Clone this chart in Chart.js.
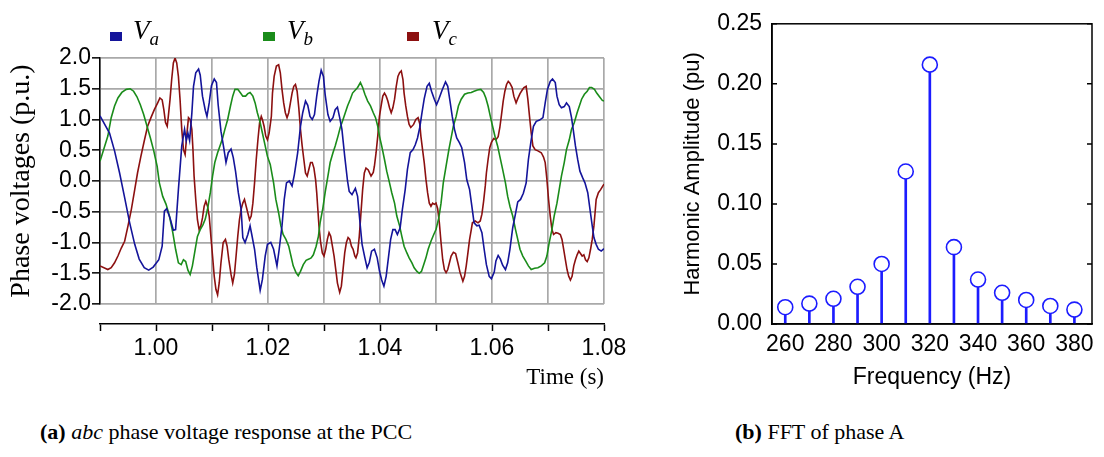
<!DOCTYPE html>
<html>
<head>
<meta charset="utf-8">
<script src="https://cdn.jsdelivr.net/npm/chart.js@4.4.0/dist/chart.umd.min.js"></script>
<style>
  html, body { margin: 0; padding: 0; background: #fff; }
  body { width: 1104px; height: 457px; position: relative; overflow: hidden; }
  canvas { position: absolute; }
  #waveChart { left: 0; top: 0; }
  #timeAxis { left: 80px; top: 320px; }
  #fftChart { left: 650px; top: 0; }
  .swatch { position: absolute; top: 32px; width: 12px; height: 9px; }
  .sym { position: absolute; top: 15px; font-family: "Liberation Serif", serif; font-style: italic; font-size: 27px; line-height: 30px; color: #000; }
  .sym sub { font-size: 19px; line-height: 0; vertical-align: -6px; }
  .caption { position: absolute; top: 419px; font-family: "Liberation Serif", serif; font-size: 22px; color: #000; white-space: nowrap; }
</style>
</head>
<body>

<canvas id="waveChart" width="620" height="320"></canvas>
<canvas id="timeAxis" width="560" height="80"></canvas>
<canvas id="fftChart" width="454" height="400"></canvas>

<div class="swatch" style="left:110px; background:#14149a;"></div>
<div class="sym" style="left:133px;">V<sub>a</sub></div>
<div class="swatch" style="left:263px; background:#1a8c1a;"></div>
<div class="sym" style="left:287px;">V<sub>b</sub></div>
<div class="swatch" style="left:407px; background:#8c1010;"></div>
<div class="sym" style="left:432px;">V<sub>c</sub></div>

<div class="caption" style="left:40px;"><b>(a)</b> <i>abc</i> phase voltage response at the PCC</div>
<div class="caption" style="left:735px;"><b>(b)</b> FFT of phase A</div>

<script>
// DATA

const timeTicks = [0.99, 1.00, 1.01, 1.02, 1.03, 1.04, 1.05, 1.06, 1.07, 1.08];
const voltTicks = [-2.0, -1.5, -1.0, -0.5, 0.0, 0.5, 1.0, 1.5, 2.0];

// phase a (blue)
const vaTime = [
  0.9900, 0.9917, 0.9926, 0.9935, 0.9944, 0.9953, 0.9962, 0.9970, 0.9979, 0.9987, 0.9995, 1.0005,
  1.0011, 1.0015, 1.0019, 1.0025, 1.0031, 1.0035, 1.0040, 1.0046,
  1.0051, 1.0054, 1.0057, 1.0060, 1.0064, 1.0067, 1.0071, 1.0076, 1.0079, 1.0083,
  1.0088, 1.0091, 1.0095, 1.0099, 1.0104, 1.0108, 1.0111, 1.0116, 1.0121, 1.0125,
  1.0129, 1.0134, 1.0138, 1.0142, 1.0147, 1.0152, 1.0155, 1.0159, 1.0164, 1.0168,
  1.0171, 1.0176, 1.0180, 1.0186, 1.0190, 1.0195, 1.0199, 1.0205, 1.0210, 1.0216,
  1.0220, 1.0225, 1.0229, 1.0233, 1.0238, 1.0243, 1.0247, 1.0253, 1.0258, 1.0262,
  1.0267, 1.0271, 1.0275, 1.0279, 1.0283, 1.0287, 1.0291, 1.0295, 1.0299, 1.0302,
  1.0307, 1.0311, 1.0316, 1.0320, 1.0324, 1.0328, 1.0332, 1.0337, 1.0342, 1.0345,
  1.0350, 1.0356, 1.0360, 1.0364, 1.0368, 1.0373, 1.0377, 1.0381, 1.0385, 1.0390,
  1.0395, 1.0399, 1.0403, 1.0407, 1.0411, 1.0415, 1.0419, 1.0423, 1.0427, 1.0431,
  1.0436, 1.0440, 1.0445, 1.0449, 1.0454, 1.0459, 1.0463, 1.0467, 1.0471, 1.0475,
  1.0479, 1.0484, 1.0488, 1.0492, 1.0497, 1.0501, 1.0505, 1.0511, 1.0517, 1.0521,
  1.0525, 1.0529, 1.0533, 1.0537, 1.0542, 1.0546, 1.0551, 1.0555, 1.0560, 1.0564,
  1.0568, 1.0573, 1.0577, 1.0582, 1.0586, 1.0590, 1.0595, 1.0599, 1.0604, 1.0607,
  1.0611, 1.0615, 1.0619, 1.0624, 1.0628, 1.0632, 1.0637, 1.0642, 1.0646, 1.0651,
  1.0656, 1.0661, 1.0665, 1.0670, 1.0674, 1.0679, 1.0685, 1.0691, 1.0695, 1.0699,
  1.0704, 1.0708, 1.0713, 1.0716, 1.0720, 1.0724, 1.0729, 1.0733, 1.0738, 1.0742,
  1.0745, 1.0749, 1.0753, 1.0757, 1.0762, 1.0766, 1.0771, 1.0775, 1.0779, 1.0782,
  1.0786, 1.0790, 1.0795, 1.0800
];
const vaVolt = [
  1.06, 0.78, 0.49, 0.13, -0.27, -0.68, -1.03, -1.27, -1.41, -1.45, -1.40, -1.28,
  -1.06, -0.49, -0.45, -0.60, -0.80, -0.79, -0.14, 0.57,
  0.84, 0.66, 0.78, 0.66, 1.10, 1.54, 1.76, 1.82, 1.72, 1.38,
  1.15, 1.05, 1.27, 1.55, 1.66, 1.60, 1.24, 0.81, 0.54, 0.30,
  0.46, 0.52, 0.38, 0.16, -0.19, -0.46, -0.92, -1.00, -0.87, -0.73,
  -0.87, -1.11, -1.41, -1.78, -1.60, -1.22, -1.03, -1.00, -1.11, -1.38,
  -1.11, -0.73, -0.30, -0.03, 0.00, -0.08, 0.10, 0.46, 0.89, 1.11,
  1.30, 1.23, 1.05, 1.00, 1.08, 1.38, 1.62, 1.80, 1.70, 1.41,
  1.08, 0.97, 1.03, 1.16, 1.20, 1.03, 0.84, 0.40, 0.00, -0.17,
  -0.22, -0.12, -0.25, -0.65, -1.03, -1.25, -1.41, -1.32, -1.14, -1.11,
  -1.25, -1.46, -1.61, -1.71, -1.55, -1.25, -0.95, -0.79, -0.79, -0.87,
  -0.76, -0.46, -0.14, 0.19, 0.46, 0.51, 0.59, 0.70, 0.87, 1.11,
  1.34, 1.54, 1.59, 1.46, 1.33, 1.24, 1.33, 1.48, 1.61, 1.54,
  1.30, 1.05, 0.84, 0.70, 0.62, 0.54, 0.30, 0.02, -0.14, -0.41,
  -0.68, -0.73, -0.72, -0.84, -1.11, -1.36, -1.55, -1.59, -1.48, -1.30,
  -1.21, -1.27, -1.37, -1.44, -1.33, -1.11, -0.76, -0.53, -0.34, -0.30,
  -0.20, -0.03, 0.35, 0.67, 0.89, 0.97, 0.99, 1.03, 1.27, 1.49,
  1.62, 1.66, 1.60, 1.38, 1.24, 1.19, 1.21, 1.27, 1.21, 1.03,
  0.84, 0.57, 0.35, 0.16, 0.05, -0.03, -0.19, -0.46, -0.73, -0.92,
  -1.03, -1.11, -1.14, -1.10
];

// phase b (green)
const vbTime = [
  0.9900, 0.9914, 0.9920, 0.9926, 0.9932, 0.9939, 0.9947, 0.9954, 0.9960, 0.9966,
  0.9972, 0.9978, 0.9984, 0.9990, 0.9996, 1.0002, 1.0006, 1.0012, 1.0018, 1.0024,
  1.0030, 1.0035, 1.0040, 1.0045, 1.0049, 1.0053, 1.0057, 1.0061, 1.0065, 1.0070,
  1.0074, 1.0079, 1.0084, 1.0088, 1.0092, 1.0097, 1.0101, 1.0105, 1.0110, 1.0115,
  1.0119, 1.0123, 1.0128, 1.0133, 1.0137, 1.0141, 1.0146, 1.0151, 1.0155, 1.0160,
  1.0164, 1.0168, 1.0173, 1.0177, 1.0181, 1.0186, 1.0190, 1.0195, 1.0199, 1.0204,
  1.0210, 1.0214, 1.0219, 1.0223, 1.0227, 1.0232, 1.0237, 1.0241, 1.0245, 1.0250,
  1.0254, 1.0258, 1.0263, 1.0268, 1.0273, 1.0277, 1.0281, 1.0286, 1.0290, 1.0293,
  1.0298, 1.0302, 1.0307, 1.0311, 1.0316, 1.0320, 1.0325, 1.0329, 1.0334, 1.0338,
  1.0342, 1.0347, 1.0351, 1.0356, 1.0360, 1.0365, 1.0369, 1.0373, 1.0378, 1.0383,
  1.0388, 1.0392, 1.0396, 1.0399, 1.0403, 1.0408, 1.0412, 1.0417, 1.0421, 1.0426,
  1.0430, 1.0435, 1.0439, 1.0443, 1.0448, 1.0452, 1.0457, 1.0461, 1.0466, 1.0470,
  1.0474, 1.0478, 1.0482, 1.0486, 1.0491, 1.0496, 1.0500, 1.0505, 1.0509, 1.0513,
  1.0518, 1.0523, 1.0527, 1.0531, 1.0536, 1.0540, 1.0545, 1.0551, 1.0557, 1.0563,
  1.0568, 1.0574, 1.0580, 1.0585, 1.0589, 1.0593, 1.0597, 1.0601, 1.0606, 1.0610,
  1.0614, 1.0619, 1.0624, 1.0628, 1.0632, 1.0637, 1.0642, 1.0646, 1.0650, 1.0655,
  1.0660, 1.0665, 1.0670, 1.0676, 1.0682, 1.0688, 1.0694, 1.0698, 1.0702, 1.0707,
  1.0711, 1.0716, 1.0720, 1.0724, 1.0729, 1.0733, 1.0738, 1.0742, 1.0747, 1.0752,
  1.0756, 1.0760, 1.0765, 1.0770, 1.0774, 1.0778, 1.0783, 1.0787, 1.0792, 1.0797,
  1.0800
];
const vbVolt = [
  0.32, 0.73, 1.03, 1.22, 1.35, 1.44, 1.49, 1.50, 1.46, 1.37,
  1.24, 1.08, 0.89, 0.70, 0.49, 0.24, -0.03, -0.25, -0.38, -0.57,
  -0.84, -1.11, -1.33, -1.36, -1.28, -1.31, -1.45, -1.52, -1.38, -1.11,
  -0.90, -0.79, -0.71, -0.62, -0.46, -0.19, 0.08, 0.30, 0.46, 0.59,
  0.70, 0.84, 1.00, 1.22, 1.38, 1.49, 1.49, 1.43, 1.38, 1.38,
  1.42, 1.44, 1.38, 1.27, 1.11, 0.95, 0.78, 0.57, 0.40, 0.27,
  -0.03, -0.30, -0.52, -0.73, -0.87, -0.95, -1.06, -1.22, -1.38, -1.49,
  -1.54, -1.47, -1.36, -1.29, -1.27, -1.25, -1.20, -1.06, -0.90, -0.68,
  -0.44, -0.19, 0.08, 0.30, 0.46, 0.57, 0.73, 0.87, 1.00, 1.11,
  1.22, 1.33, 1.43, 1.48, 1.52, 1.60, 1.52, 1.41, 1.30, 1.22,
  1.11, 1.03, 0.89, 0.73, 0.57, 0.35, 0.16, -0.03, -0.19, -0.36,
  -0.57, -0.73, -0.90, -1.06, -1.17, -1.25, -1.33, -1.41, -1.47, -1.50,
  -1.47, -1.36, -1.25, -1.11, -0.98, -0.87, -0.79, -0.60, -0.36, -0.03,
  0.24, 0.51, 0.70, 0.89, 1.05, 1.22, 1.33, 1.41, 1.43, 1.44,
  1.46, 1.48, 1.49, 1.44, 1.35, 1.22, 1.05, 0.89, 0.70, 0.57,
  0.40, 0.19, -0.03, -0.25, -0.41, -0.57, -0.79, -0.95, -1.11, -1.22,
  -1.30, -1.38, -1.44, -1.42, -1.41, -1.38, -1.33, -1.22, -1.01, -0.79,
  -0.57, -0.36, -0.14, 0.08, 0.30, 0.51, 0.67, 0.84, 0.95, 1.11,
  1.22, 1.33, 1.41, 1.46, 1.52, 1.52, 1.49, 1.43, 1.37, 1.31,
  1.30
];

// phase c (red)
const vcTime = [
  0.9900, 0.9914, 0.9920, 0.9926, 0.9932, 0.9938, 0.9944, 0.9950, 0.9956, 0.9962,
  0.9967, 0.9973, 0.9979, 0.9985, 0.9991, 0.9997, 1.0003, 1.0007, 1.0011, 1.0014,
  1.0017, 1.0020, 1.0022, 1.0025, 1.0028, 1.0031, 1.0034, 1.0037, 1.0040, 1.0043,
  1.0046, 1.0049, 1.0052, 1.0055, 1.0058, 1.0061, 1.0064, 1.0066, 1.0068, 1.0071,
  1.0074, 1.0077, 1.0080, 1.0083, 1.0086, 1.0089, 1.0092, 1.0095, 1.0098, 1.0101,
  1.0104, 1.0107, 1.0110, 1.0113, 1.0116, 1.0120, 1.0124, 1.0127, 1.0130, 1.0134,
  1.0137, 1.0140, 1.0143, 1.0146, 1.0149, 1.0152, 1.0155, 1.0158, 1.0161, 1.0164,
  1.0167, 1.0170, 1.0173, 1.0176, 1.0179, 1.0182, 1.0185, 1.0188, 1.0190, 1.0193,
  1.0196, 1.0199, 1.0202, 1.0206, 1.0208, 1.0211, 1.0215, 1.0219, 1.0222, 1.0225,
  1.0228, 1.0231, 1.0234, 1.0237, 1.0240, 1.0243, 1.0246, 1.0249, 1.0252, 1.0255,
  1.0258, 1.0261, 1.0264, 1.0267, 1.0270, 1.0273, 1.0276, 1.0279, 1.0282, 1.0285,
  1.0287, 1.0289, 1.0291, 1.0294, 1.0297, 1.0300, 1.0303, 1.0306, 1.0309, 1.0312,
  1.0315, 1.0318, 1.0321, 1.0324, 1.0328, 1.0331, 1.0334, 1.0337, 1.0340, 1.0343,
  1.0346, 1.0349, 1.0352, 1.0355, 1.0357, 1.0360, 1.0363, 1.0366, 1.0369, 1.0372,
  1.0375, 1.0379, 1.0384, 1.0388, 1.0390, 1.0393, 1.0396, 1.0399, 1.0402, 1.0405,
  1.0408, 1.0411, 1.0414, 1.0417, 1.0420, 1.0423, 1.0426, 1.0429, 1.0432, 1.0435,
  1.0438, 1.0441, 1.0443, 1.0446, 1.0449, 1.0452, 1.0455, 1.0460, 1.0464, 1.0468,
  1.0471, 1.0473, 1.0476, 1.0479, 1.0482, 1.0485, 1.0488, 1.0491, 1.0494, 1.0497,
  1.0500, 1.0503, 1.0506, 1.0509, 1.0512, 1.0515, 1.0518, 1.0521, 1.0524, 1.0527,
  1.0531, 1.0535, 1.0539, 1.0543, 1.0548, 1.0551, 1.0554, 1.0557, 1.0560, 1.0563,
  1.0565, 1.0570, 1.0575, 1.0579, 1.0582, 1.0585, 1.0588, 1.0590, 1.0593, 1.0596,
  1.0599, 1.0603, 1.0607, 1.0611, 1.0614, 1.0617, 1.0620, 1.0623, 1.0626, 1.0629,
  1.0632, 1.0636, 1.0639, 1.0643, 1.0646, 1.0650, 1.0654, 1.0657, 1.0661, 1.0664,
  1.0667, 1.0670, 1.0673, 1.0677, 1.0682, 1.0688, 1.0692, 1.0695, 1.0698, 1.0701,
  1.0704, 1.0707, 1.0710, 1.0714, 1.0718, 1.0722, 1.0725, 1.0728, 1.0731, 1.0734,
  1.0737, 1.0740, 1.0743, 1.0746, 1.0749, 1.0752, 1.0755, 1.0758, 1.0761, 1.0764,
  1.0767, 1.0770, 1.0773, 1.0776, 1.0779, 1.0782, 1.0784, 1.0786, 1.0790, 1.0794,
  1.0798, 1.0800
];
const vcVolt = [
  -1.38, -1.44, -1.41, -1.33, -1.22, -1.09, -0.98, -0.73, -0.46, -0.14,
  0.13, 0.40, 0.65, 0.89, 1.03, 1.16, 1.27, 1.35, 1.32, 1.16,
  0.95, 0.89, 1.05, 1.32, 1.65, 1.92, 2.00, 1.92, 1.70, 1.32,
  0.84, 0.51, 0.43, 0.75, 1.03, 1.00, 0.84, 0.51, 0.08, -0.30,
  -0.63, -0.79, -0.73, -0.60, -0.41, -0.33, -0.41, -0.57, -0.90, -1.22,
  -1.55, -1.76, -1.85, -1.65, -1.33, -1.00, -0.95, -1.06, -1.28, -1.52,
  -1.66, -1.52, -1.22, -0.90, -0.63, -0.46, -0.36, -0.30, -0.41, -0.52,
  -0.63, -0.57, -0.36, -0.03, 0.35, 0.67, 0.95, 1.05, 1.00, 0.89,
  0.73, 0.67, 0.78, 1.05, 1.43, 1.70, 1.87, 1.89, 1.76, 1.49,
  1.27, 1.11, 1.03, 1.11, 1.27, 1.43, 1.54, 1.57, 1.46, 1.19,
  0.84, 0.57, 0.35, 0.13, 0.08, 0.19, 0.30, 0.30, 0.21, 0.02,
  -0.19, -0.46, -0.73, -1.00, -1.17, -1.22, -1.11, -0.95, -0.84, -0.90,
  -1.06, -1.22, -1.44, -1.66, -1.81, -1.71, -1.44, -1.17, -1.00, -0.92,
  -0.95, -1.06, -1.11, -1.22, -1.25, -1.17, -0.90, -0.52, -0.14, 0.13,
  0.21, 0.18, 0.08, 0.14, 0.24, 0.46, 0.73, 1.05, 1.22, 1.38,
  1.43, 1.38, 1.30, 1.19, 1.11, 1.19, 1.33, 1.54, 1.70, 1.76,
  1.79, 1.65, 1.43, 1.22, 1.05, 0.92, 0.87, 0.92, 1.00, 1.03,
  0.93, 0.73, 0.51, 0.30, 0.03, -0.19, -0.36, -0.41, -0.36, -0.38,
  -0.36, -0.45, -0.68, -1.00, -1.28, -1.44, -1.49, -1.44, -1.33, -1.22,
  -1.16, -1.18, -1.33, -1.49, -1.63, -1.55, -1.38, -1.17, -0.95, -0.79,
  -0.68, -0.65, -0.68, -0.65, -0.54, -0.33, -0.08, 0.13, 0.35, 0.54,
  0.63, 0.69, 0.67, 0.72, 0.87, 1.08, 1.30, 1.46, 1.57, 1.62,
  1.59, 1.52, 1.38, 1.27, 1.34, 1.42, 1.48, 1.52, 1.54, 1.33,
  1.05, 0.78, 0.57, 0.51, 0.49, 0.46, 0.39, 0.30, 0.03, -0.30,
  -0.57, -0.79, -0.87, -0.84, -0.85, -0.87, -0.95, -1.11, -1.28, -1.44,
  -1.55, -1.61, -1.55, -1.38, -1.28, -1.20, -1.14, -1.18, -1.22, -1.20,
  -1.28, -1.31, -1.25, -1.11, -0.95, -0.73, -0.52, -0.30, -0.19, -0.14,
  -0.08, -0.05
];

// FFT of phase A
const freqHz = [260, 270, 280, 290, 300, 310, 320, 330, 340, 350, 360, 370, 380];
const harmonicAmp = [0.014, 0.017, 0.021, 0.031, 0.050, 0.127, 0.216, 0.064, 0.037, 0.026, 0.020, 0.015, 0.012];
const freqTicks = [260, 280, 300, 320, 340, 360, 380];
const ampTicks = [0.00, 0.05, 0.10, 0.15, 0.20, 0.25];


// STYLE

const gridGray = "#a9a9a9";
const fftBlue = "#1c1cff";
const sansFont = "'Liberation Sans', Arial, sans-serif";
const serifFont = "'Liberation Serif', 'Times New Roman', serif";

Chart.defaults.font.family = sansFont;
Chart.defaults.color = "#000";


// HELPERS

function toPoints(xs, ys) {
  return xs.map((x, i) => ({ x: x, y: ys[i] }));
}

function fixedTicks(values) {
  return function (scale) {
    scale.ticks = values.map(v => ({ value: v }));
  };
}

const noPlugins = {
  legend: { display: false },
  tooltip: { enabled: false }
};

// closed box + small inward ticks on both sides of the FFT plot
const fftFrame = {
  id: "fftFrame",
  afterDraw(chart) {
    const ctx = chart.ctx;
    const area = chart.chartArea;
    const yScale = chart.scales.y;
    ctx.save();
    ctx.strokeStyle = "#000";
    ctx.lineWidth = 1.5;
    ctx.strokeRect(area.left, area.top, area.right - area.left, area.bottom - area.top);
    ctx.beginPath();
    ampTicks.forEach(v => {
      const y = yScale.getPixelForValue(v);
      ctx.moveTo(area.left, y);
      ctx.lineTo(area.left + 5, y);
      ctx.moveTo(area.right, y);
      ctx.lineTo(area.right - 5, y);
    });
    ctx.stroke();
    ctx.restore();
  }
};


// WAVEFORM CHART (plot area only, x axis is drawn below separately)

new Chart(document.getElementById("waveChart"), {
  type: "line",
  data: {
    datasets: [
      { data: toPoints(vaTime, vaVolt), borderColor: "#14149a", borderWidth: 1.6, pointRadius: 0 },
      { data: toPoints(vbTime, vbVolt), borderColor: "#1a8c1a", borderWidth: 1.6, pointRadius: 0 },
      { data: toPoints(vcTime, vcVolt), borderColor: "#8c1010", borderWidth: 1.6, pointRadius: 0 }
    ]
  },
  options: {
    responsive: false,
    animation: false,
    layout: { padding: { top: 58, right: 16, bottom: 16, left: 0 } },
    plugins: noPlugins,
    scales: {
      x: {
        type: "linear",
        min: 0.99,
        max: 1.08,
        afterBuildTicks: fixedTicks(timeTicks),
        ticks: { display: false },
        border: { display: false },
        grid: { color: gridGray, lineWidth: 1.7, drawTicks: false }
      },
      y: {
        min: -2,
        max: 2,
        afterBuildTicks: fixedTicks(voltTicks),
        afterFit: function (scale) { scale.width = 100; },
        ticks: {
          font: { size: 23 },
          padding: 1,
          autoSkip: false,
          callback: v => v.toFixed(1)
        },
        grid: { color: gridGray, lineWidth: 1.7, tickColor: "#000", tickLength: 8, tickWidth: 1.5 },
        border: { color: "#000", width: 1.5 },
        title: {
          display: true,
          text: "Phase voltages (p.u.)",
          font: { family: serifFont, size: 28 },
          padding: { top: 5, bottom: 0 }
        }
      }
    }
  }
});


// DETACHED TIME AXIS

new Chart(document.getElementById("timeAxis"), {
  type: "line",
  data: { datasets: [] },
  options: {
    responsive: false,
    animation: false,
    layout: { padding: { top: 0, right: 36, bottom: 0, left: 20 } },
    plugins: noPlugins,
    scales: {
      x: {
        type: "linear",
        min: 0.99,
        max: 1.08,
        afterBuildTicks: fixedTicks(timeTicks),
        afterFit: function (scale) { scale.height = 76; },
        ticks: {
          font: { size: 23 },
          padding: 4,
          maxRotation: 0,
          autoSkip: false,
          callback: (v, i) => (i % 2 === 1 ? v.toFixed(2) : "")
        },
        grid: { drawOnChartArea: false, tickColor: "#000", tickLength: 7, tickWidth: 1.5 },
        border: { color: "#000", width: 1.5 },
        title: {
          display: true,
          text: "Time (s)",
          align: "end",
          font: { family: serifFont, size: 23 },
          padding: { top: 0, bottom: 8 }
        }
      },
      y: { display: false }
    }
  }
});


// FFT STEM CHART

new Chart(document.getElementById("fftChart"), {
  type: "bar",
  data: {
    datasets: [
      {
        type: "scatter",
        data: toPoints(freqHz, harmonicAmp),
        pointRadius: 7.5,
        pointBorderWidth: 1.6,
        borderColor: fftBlue,
        backgroundColor: "#fff",
        order: 0
      },
      {
        type: "bar",
        data: toPoints(freqHz, harmonicAmp),
        backgroundColor: fftBlue,
        barThickness: 2,
        order: 1
      }
    ]
  },
  options: {
    responsive: false,
    animation: false,
    layout: { padding: { top: 16, right: 12, bottom: 0, left: 0 } },
    plugins: noPlugins,
    scales: {
      x: {
        type: "linear",
        min: 254.5,
        max: 387.3,
        offset: false,
        afterBuildTicks: fixedTicks(freqTicks),
        afterFit: function (scale) { scale.height = 76; },
        ticks: { font: { size: 23 }, padding: 7, maxRotation: 0, autoSkip: false },
        grid: { display: false, drawTicks: false, offset: false },
        border: { color: "#000", width: 1.5 },
        title: {
          display: true,
          text: "Frequency (Hz)",
          font: { size: 23 },
          padding: { top: 0, bottom: 9 }
        }
      },
      y: {
        min: 0,
        max: 0.25,
        afterBuildTicks: fixedTicks(ampTicks),
        afterFit: function (scale) { scale.width = 122; },
        ticks: { font: { size: 23 }, padding: 10, autoSkip: false, callback: v => v.toFixed(2) },
        grid: { display: false, drawTicks: false },
        border: { color: "#000", width: 1.5 },
        title: {
          display: true,
          text: "Harmonic Amplitude (pu)",
          font: { size: 22 },
          padding: { top: 30, bottom: 0 }
        }
      }
    }
  },
  plugins: [fftFrame]
});
</script>
</body>
</html>
